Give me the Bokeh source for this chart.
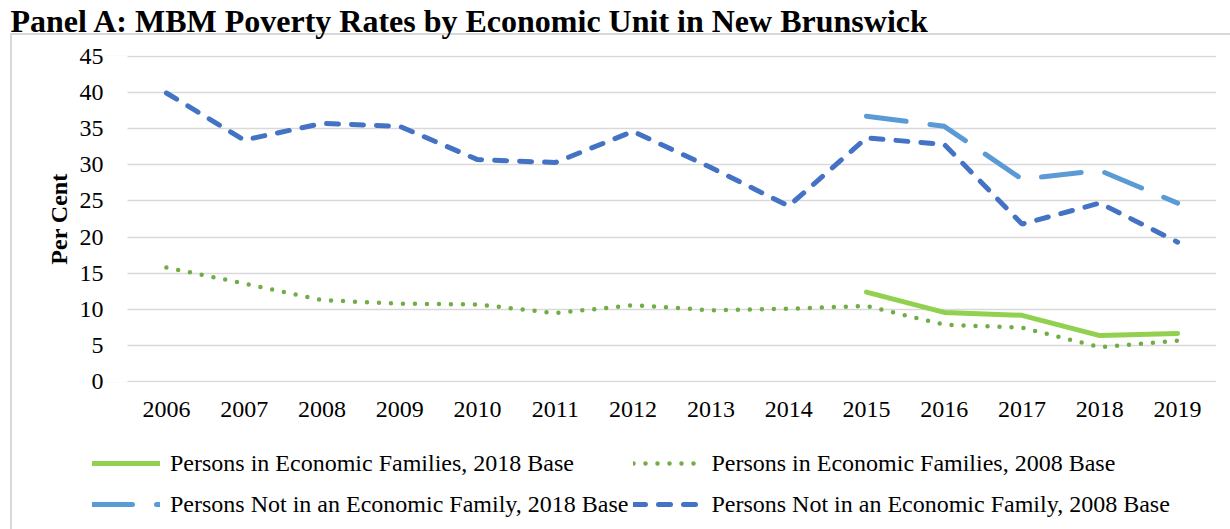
from bokeh.plotting import figure
from bokeh.layouts import column
from bokeh.models import FixedTicker, Legend, LegendItem, Title, BoxAnnotation
from bokeh.embed import file_html
from bokeh.resources import INLINE

# ---- data ----
years = [2006, 2007, 2008, 2009, 2010, 2011, 2012, 2013, 2014, 2015, 2016, 2017, 2018, 2019]
years_2018_base = [2015, 2016, 2017, 2018, 2019]

fam_2018_base = [12.4, 9.6, 9.2, 6.4, 6.7]
fam_2008_base = [15.8, 13.6, 11.3, 10.8, 10.7, 9.5, 10.6, 9.9, 10.1, 10.5, 7.9, 7.5, 4.8, 5.7]
nofam_2018_base = [36.7, 35.3, 28.0, 29.2, 24.7]
nofam_2008_base = [39.9, 33.4, 35.7, 35.3, 30.7, 30.3, 34.6, 29.6, 24.3, 33.7, 32.8, 21.8, 24.7, 19.3]

y_ticks = [0, 5, 10, 15, 20, 25, 30, 35, 40, 45]
title_text = "Panel A: MBM Poverty Rates by Economic Unit in New Brunswick"
y_label = "Per Cent"
names = ["Persons in Economic Families, 2018 Base",
         "Persons in Economic Families, 2008 Base",
         "Persons Not in an Economic Family, 2018 Base",
         "Persons Not in an Economic Family, 2008 Base"]

FONT = "Liberation Serif"
BORDER = "#d9d9d9"

styles = [
    dict(line_color="#92D050", line_width=5, line_cap="round"),
    dict(line_color="#70AD47", line_width=4.5, line_cap="round", line_dash="0 12"),
    dict(line_color="#5B9BD5", line_width=5, line_cap="round", line_dash="40 24"),
    dict(line_color="#4472C4", line_width=5, line_cap="round", line_dash="12 13"),
]

bg_top = ("linear-gradient({c},{c}) 11px 33px / 1219px 2px no-repeat, "
          "linear-gradient({c},{c}) 10px 33px / 2px 500px no-repeat, white").format(c=BORDER)
bg_bottom = "linear-gradient({c},{c}) 10px 0px / 2px 200px no-repeat, white".format(c=BORDER)

# ---------------- main chart ----------------
p = figure(width=1230, height=440, output_backend="svg", toolbar_location=None,
           x_range=(2005.05, 2019.5), y_range=(-0.08, 45.08),
           min_border_left=92, min_border_right=14, min_border_top=52, min_border_bottom=58,
           styles={"background": bg_top})
p.background_fill_color = "white"
p.border_fill_alpha = 0
p.outline_line_color = None
p.title.text = ""
p.title.standoff = 0

p.xaxis.ticker = FixedTicker(ticks=years)
p.xaxis.major_label_overrides = {y: str(y) for y in years}
p.yaxis.ticker = FixedTicker(ticks=y_ticks)
for ax in (p.xaxis[0], p.yaxis[0]):
    ax.axis_line_color = None
    ax.major_tick_line_color = None
    ax.minor_tick_line_color = None
    ax.major_label_text_font = FONT
    ax.major_label_text_font_size = "24px"
    ax.major_label_text_color = "black"
p.xaxis.major_label_standoff = 13
p.yaxis.major_label_standoff = -17
p.yaxis.axis_label = y_label
p.yaxis.axis_label_text_font = FONT
p.yaxis.axis_label_text_font_size = "24px"
p.yaxis.axis_label_text_font_style = "bold"
p.yaxis.axis_label_text_color = "black"
p.yaxis.axis_label_standoff = 5

p.xgrid.grid_line_color = None
p.ygrid.grid_line_color = BORDER
p.ygrid.grid_line_width = 1.3

# keep the plot area's left strip (under the tick labels) free of grid lines
p.add_layout(BoxAnnotation(right=2005.5, fill_color="white", fill_alpha=1, line_color=None,
                           level="underlay"))

p.line(years_2018_base, fam_2018_base, **styles[0])
p.line(years, fam_2008_base, **styles[1])
p.line(years_2018_base, nofam_2018_base, **styles[2])
p.line(years, nofam_2008_base, **styles[3])

p.add_layout(Title(text=" ", text_font_size="1px", standoff=14), "above")
p.add_layout(Title(text=title_text, text_font=FONT, text_font_size="32px",
                   text_font_style="bold", text_color="black", align="left",
                   offset=-82, standoff=0), "above")

# ---------------- legend strip ----------------
lg = figure(width=1230, height=89, output_backend="svg", toolbar_location=None,
            x_range=(0, 1), y_range=(0, 1), x_axis_type=None, y_axis_type=None,
            min_border=0, min_border_left=0, min_border_right=0,
            min_border_top=0, min_border_bottom=0,
            styles={"background": bg_bottom})
lg.background_fill_alpha = 0
lg.border_fill_alpha = 0
lg.outline_line_color = None
lg.grid.visible = False
lg.title.text = ""
lg.title.standoff = 0

nan = float("nan")
keys = [lg.line([nan], [nan], **s) for s in styles]

legend = Legend(items=[LegendItem(label=n, renderers=[k]) for n, k in zip(names, keys)],
                location=(0, 7), orientation="horizontal", ncols=2,
                padding=0, margin=0, spacing=5, glyph_width=68, glyph_height=36,
                label_standoff=10, label_text_font=FONT, label_text_font_size="24px",
                label_text_color="black", border_line_color=None,
                background_fill_alpha=0)
lg.add_layout(legend, "center")

layout = column(p, lg, spacing=0)
open("out.html", "w").write(file_html(layout, INLINE))
